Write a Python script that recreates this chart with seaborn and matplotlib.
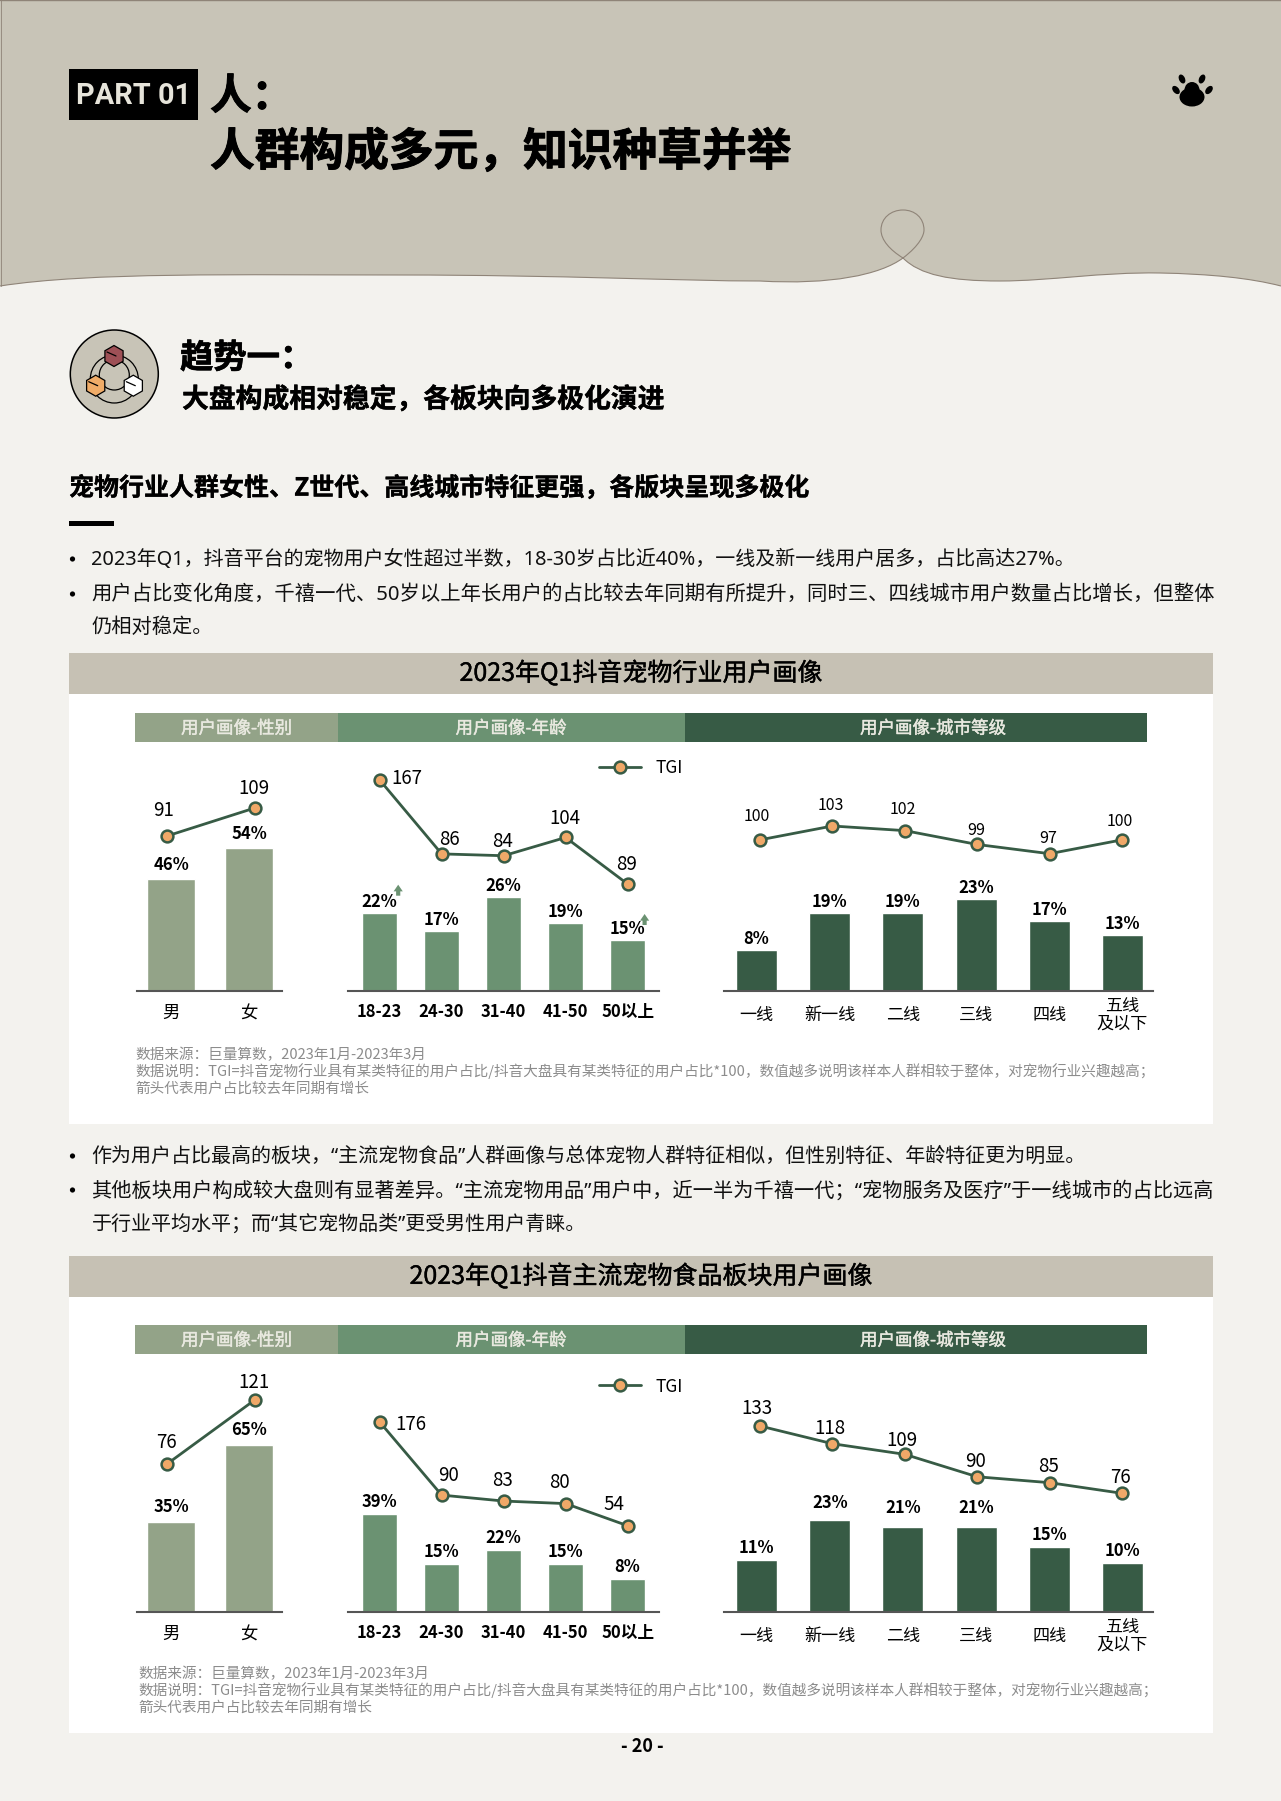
"""Pet industry user portrait page: two rows of bar + TGI line panels."""

import matplotlib.patheffects as pe
import matplotlib.pyplot as plt
import numpy as np
import pandas as pd
import seaborn as sns
from matplotlib.patches import Circle, Ellipse, PathPatch, Rectangle, RegularPolygon
from matplotlib.path import Path

W, H = 1281, 1801

# data
gender = ["男", "女"]
age = ["18-23", "24-30", "31-40", "41-50", "50以上"]
city = ["一线", "新一线", "二线", "三线", "四线", "五线\n及以下"]

share_gender_all = [46, 54]
tgi_gender_all = [91, 109]
share_age_all = [22, 17.4, 26, 19.4, 15]
tgi_age_all = [167, 86, 84, 104, 89]
# the 50+ point is drawn far lower than its label says in the source
tgi_age_all_drawn = [167, 86, 84, 104, 53]
share_city_all = [8, 19, 19, 23.4, 16.6, 12.6]
tgi_city_all = [100, 103, 102, 99, 97, 100]

share_gender_food = [35, 65]
tgi_gender_food = [76, 121]
share_age_food = [39, 15, 22, 15, 8]
tgi_age_food = [176, 90, 83, 80, 54]
share_city_food = [11, 23, 21, 21, 15, 10]
tgi_city_food = [133, 118, 109, 90, 85, 76]

source_lines = [
    "数据来源：巨量算数，2023年1月-2023年3月",
    "数据说明：TGI=抖音宠物行业具有某类特征的用户占比/抖音大盘具有某类特征的用户占比*100，数值越多说明该样本人群相较于整体，对宠物行业兴趣越高；",
    "箭头代表用户占比较去年同期有增长",
]

BG = "#F3F2EE"
SAND = "#C8C4B7"
SAGE = "#93A388"
GREEN = "#6B9272"
DARK = "#375B45"
ORANGE = "#F0A868"
GREY = "#8C8C8C"
CJK = ["Noto Sans CJK SC", "DejaVu Sans"]
NARROW_QUOTES = ["Noto Sans", "Noto Sans CJK SC"]


def thicken(width, color="black"):
    return [pe.withStroke(linewidth=width, foreground=color)]


def px_axes(fig, left, top, right, bottom):
    ax = fig.add_axes([left / W, 1 - bottom / H, (right - left) / W, (bottom - top) / H])
    ax.patch.set_alpha(0)
    return ax


def draw_bars(fig, cats, values, color, base, x_span, c_span, width, slope, origin, dy, tick_size, tick_weight, pad=15):
    n = len(cats)
    step = (c_span[1] - c_span[0]) / (n - 1)
    ax = px_axes(fig, x_span[0], base - 200, x_span[1], base)
    df = pd.DataFrame({"cat": cats, "share": values})
    sns.barplot(data=df, x="cat", y="share", color=color, saturation=1, width=width, ax=ax)
    # value axis does not start at zero here, bars must still reach the baseline
    for bar in ax.patches:
        bar.set_height(bar.get_height() - origin)
        bar.set_y(origin)
    ax.set_xlim((x_span[0] - c_span[0]) / step, (x_span[1] - c_span[0]) / step)
    ax.set_ylim(origin, origin + 200 / slope)
    ax.set_xlabel("")
    ax.set_ylabel("")
    ax.set_yticks([])
    sns.despine(ax=ax, left=True)
    ax.spines["bottom"].set_color("#555555")
    ax.spines["bottom"].set_linewidth(1.5)
    ax.tick_params(axis="x", length=0, pad=pad, labelsize=tick_size)
    for lab in ax.get_xticklabels():
        lab.set_fontweight(tick_weight)
        lab.set_va("center")
        lab.set_linespacing(0.95)
    offsets = np.broadcast_to(dy, (n,))
    for i, v in enumerate(values):
        ax.annotate(f"{v:.0f}%", (i, v), xytext=(0, offsets[i]), textcoords="offset pixels",
                    ha="center", va="center", fontsize=12, fontweight="bold", color="black")
    return ax


def draw_line(fig, cats, values, labels, base, x_span, fit, offsets, font_size, legend_y=None):
    n = len(cats)
    step = (x_span[1] - x_span[0]) / (n - 1)
    ax = px_axes(fig, x_span[0] - step / 2, base - 320, x_span[1] + step / 2, base)
    v1, p1, v2, p2 = fit
    per_px = (v1 - v2) / (p2 - p1)
    df = pd.DataFrame({"pos": np.arange(n), "tgi": values})
    sns.lineplot(data=df, x="pos", y="tgi", ax=ax, color=DARK, linewidth=2.0, marker="o", markersize=8.5,
                 markerfacecolor=ORANGE, markeredgecolor=DARK, markeredgewidth=1.8, label="TGI", clip_on=False)
    ax.set_xlim(-0.5, n - 0.5)
    ax.set_ylim(v1 - (base - p1) * per_px, v1 + (p1 - (base - 320)) * per_px)
    ax.axis("off")
    for i, (v, lab) in enumerate(zip(values, labels)):
        ax.annotate(str(lab), (i, v), xytext=offsets[i], textcoords="offset pixels",
                    ha="center", va="center", fontsize=font_size, color="black")
    if legend_y is None:
        ax.get_legend().remove()
    else:
        ax.legend(loc="center left", bbox_to_anchor=(599, legend_y), bbox_transform=fig.bg.transData,
                  frameon=False, fontsize=12.5, handlelength=2.4, handletextpad=0.85, borderpad=0, borderaxespad=0)


def draw_header(bg, top, xs_text):
    spans = [(135.2, 337.9, SAGE, "用户画像-性别"), (337.9, 685, GREEN, "用户画像-年龄"), (685, 1147, DARK, "用户画像-城市等级")]
    for (x0, x1, col, txt), xt in zip(spans, xs_text):
        bg.add_patch(Rectangle((x0, top), x1 - x0, 29, color=col, lw=0))
        bg.text(xt, top + 15.5, txt, ha="center", va="center", fontsize=12.6, color="#E9E9E0",
                path_effects=thicken(0.3, "#E9E9E0"))


def draw_decor(bg):
    M, C = Path.MOVETO, Path.CURVE4
    L = Path.LINETO
    band = [
        ((0, 286), M), ((90, 272), C), ((240, 275), C), ((400, 275), C), ((560, 275), C), ((680, 281), C), ((760, 281), C),
        ((830, 285), C), ((880, 275), C), ((903, 258), C), ((920, 275), C), ((950, 281), C), ((1000, 281), C),
        ((1050, 281), C), ((1100, 272), C), ((1160, 273), C), ((1210, 274), C), ((1250, 278), C), ((1281, 286), C),
        ((1281, 0), L), ((0, 0), L), ((0, 286), L),
    ]
    bg.add_patch(PathPatch(Path([p for p, _ in band], [c for _, c in band]), facecolor=SAND, edgecolor="none"))
    edge = [
        ((0, 286), M), ((90, 272), C), ((240, 275), C), ((400, 275), C), ((560, 275), C), ((680, 281), C), ((760, 281), C),
        ((830, 285), C), ((880, 275), C), ((903, 258), C), ((920, 245), C), ((924, 235), C), ((924, 230), C),
        ((924, 218), C), ((915, 210), C), ((903, 210), C), ((891, 210), C), ((881, 218), C), ((881, 230), C),
        ((881, 240), C), ((890, 250), C), ((903, 258), C), ((920, 275), C), ((950, 281), C), ((1000, 281), C),
        ((1050, 281), C), ((1100, 272), C), ((1160, 273), C), ((1210, 274), C), ((1250, 278), C), ((1281, 286), C),
    ]
    bg.add_patch(PathPatch(Path([p for p, _ in edge], [c for _, c in edge]), facecolor="none", edgecolor="#8F8478", lw=0.8))
    bg.plot([0, 1281], [0.5, 0.5], color="#8F8478", lw=1.0)
    bg.plot([0.5, 0.5], [0, 286], color="#8F8478", lw=0.6)

    bg.add_patch(Rectangle((69, 69), 129, 51, color="black", lw=0))
    bg.text(133.5, 96, "PART 01", color="#E6E4DA", fontsize=20.8, fontweight="bold", ha="center", va="center", fontfamily="Roboto")
    bg.text(210, 97, "人：", fontsize=30, fontweight="bold", va="center", path_effects=thicken(0.7))
    bg.text(210, 152.5, "人群构成多元，知识种草并举", fontsize=32.2, fontweight="bold", va="center", path_effects=thicken(0.7))

    # paw
    bg.add_patch(Ellipse((1192, 97), 25, 19, color="black", lw=0))
    bg.add_patch(Ellipse((1192, 90), 15, 16, color="black", lw=0))
    for x, y, ang in [(1182, 79, -25), (1202, 79, 25), (1176, 90, -40), (1209, 90, 40)]:
        bg.add_patch(Ellipse((x, y), 6, 9.5, angle=ang, color="black", lw=0))

    # round icon
    bg.add_patch(Circle((114.3, 374), 44, facecolor=SAND, edgecolor="black", lw=1.1))
    bg.add_patch(Circle((114.3, 379), 24, facecolor="none", edgecolor="black", lw=0.9))
    bg.add_patch(Circle((114.3, 375), 15, facecolor="none", edgecolor="black", lw=0.9))
    for x, y, col in [(114, 356, "#9E5056"), (95.7, 385.7, "#F0AC68"), (133.3, 385.7, "white")]:
        bg.add_patch(RegularPolygon((x, y), 6, radius=10.5, facecolor=col, edgecolor="black", lw=0.9, zorder=3))
        bg.plot([x - 7, x + 2], [y - 4, y], color="black", lw=0.9, zorder=4)

    bg.text(180, 358.5, "趋势一：", fontsize=24, fontweight="bold", va="center", path_effects=thicken(0.5))
    bg.text(182, 399.5, "大盘构成相对稳定，各板块向多极化演进", fontsize=19.3, fontweight="bold", va="center", path_effects=thicken(0.3))
    bg.text(69, 488, "宠物行业人群女性、Z世代、高线城市特征更强，各版块呈现多极化", fontsize=18, fontweight="bold", va="center", path_effects=thicken(0.2))
    bg.add_patch(Rectangle((69, 521), 45, 5, color="black", lw=0))

    bullets = [
        (560, True, 14.4, "2023年Q1，抖音平台的宠物用户女性超过半数，18-30岁占比近40%，一线及新一线用户居多，占比高达27%。"),
        (595, True, 14.66, "用户占比变化角度，千禧一代、50岁以上年长用户的占比较去年同期有所提升，同时三、四线城市用户数量占比增长，但整体"),
        (628, False, 14.6, "仍相对稳定。"),
        (1157, True, 14.4, "作为用户占比最高的板块，“主流宠物食品”人群画像与总体宠物人群特征相似，但性别特征、年龄特征更为明显。"),
        (1191, True, 14.55, "其他板块用户构成较大盘则有显著差异。“主流宠物用品”用户中，近一半为千禧一代；“宠物服务及医疗”于一线城市的占比远高"),
        (1225, False, 14.4, "于行业平均水平；而“其它宠物品类”更受男性用户青睐。"),
    ]
    for y, dot, size, txt in bullets:
        if dot:
            bg.add_patch(Circle((72.5, y - 1), 2.6, color="black", lw=0))
        bg.text(91.5, y, txt, fontsize=size, va="center", color="#111111", fontfamily=NARROW_QUOTES)

    for top, bottom, head_bottom, title in [
        (653, 1124, 694, "2023年Q1抖音宠物行业用户画像"),
        (1256, 1733, 1297, "2023年Q1抖音主流宠物食品板块用户画像"),
    ]:
        bg.add_patch(Rectangle((69, top), 1144, bottom - top, color="white", lw=0))
        bg.add_patch(Rectangle((69, top), 1144, head_bottom - top, color="#C6C1B4", lw=0))
        bg.text(641, (top + head_bottom) / 2, title, fontsize=18, ha="center", va="center", path_effects=thicken(0.3))

    for x, ys in [(135.5, (1054.5, 1070.7, 1088.3)), (138.5, (1673.8, 1690, 1707.3))]:
        for y, line in zip(ys, source_lines):
            bg.text(x, y, line, fontsize=10.52, color=GREY, va="center")

    bg.text(642, 1746, "- 20 -", fontsize=13, fontweight="bold", ha="center", va="center")

    # growth arrows next to the 18-23 and 50+ labels
    for x, y in [(398.2, 890.7), (644.6, 920)]:
        bg.annotate("", xy=(x, y - 6), xytext=(x, y + 5),
                    arrowprops=dict(arrowstyle="simple,head_width=0.55,head_length=0.4,tail_width=0.25",
                                    color=GREEN, lw=0, shrinkA=0, shrinkB=0))


def main() -> None:
    sns.set_theme(style="white")
    plt.rcParams["font.family"] = CJK
    plt.rcParams["text.color"] = "black"
    plt.rcParams["xtick.color"] = "black"
    plt.rcParams["axes.unicode_minus"] = False

    fig = plt.figure(figsize=(W / 100, H / 100), dpi=100, facecolor=BG)
    bg = fig.add_axes([0, 0, 1, 1])
    bg.set_xlim(0, W)
    bg.set_ylim(H, 0)
    bg.axis("off")
    fig.bg = bg
    draw_decor(bg)
    draw_header(bg, 713, (236.5, 511, 933))
    draw_header(bg, 1325, (236.5, 511, 933))

    gx, gc = (136.6, 281.7), (171, 249)
    ax, ac = (347.9, 659), (379.5, 627.6)
    cx, cc = (724, 1153), (756.5, 1122.5)
    gl, al, cl = (167, 254.7), (379.7, 627.6), (760, 1122)

    # row 1: whole industry
    base = 991
    draw_bars(fig, gender, share_gender_all, SAGE, base, gx, gc, 0.615, 3.875, 17.1, 14, 12.5, "normal", pad=16)
    draw_bars(fig, age, share_age_all, GREEN, base, ax, ac, 0.565, 3.9, 2, 11, 12, "bold")
    draw_bars(fig, city, share_city_all, DARK, base, cx, cc, 0.56, 3.3, -4.5, 11, 12.3, "normal", pad=17)
    draw_line(fig, gender, tgi_gender_all, tgi_gender_all, base, gl, (91, 836, 109, 808),
              [(-3, 26), (-1, 19)], 13.5)
    draw_line(fig, age, tgi_age_all_drawn, tgi_age_all, base, al, (167, 780, 53, 884),
              [(27, 2), (8, 14), (-1, 14), (-1, 19), (-1, 19)], 13.5, legend_y=768)
    draw_line(fig, city, tgi_city_all, tgi_city_all, base, cl, (103, 826, 97, 853.7),
              [(-3, 23), (-2, 20), (-2, 21), (-1, 14), (-1, 15), (-2, 18)], 11.5)

    # row 2: mainstream pet food
    base = 1612
    draw_bars(fig, gender, share_gender_food, SAGE, base, gx, gc, 0.615, 2.57, 0, 15, 12.5, "normal", pad=16)
    draw_bars(fig, age, share_age_food, GREEN, base, ax, ac, 0.565, 2.1, -7.7, 12, 12, "bold")
    draw_bars(fig, city, share_city_food, DARK, base, cx, cc, 0.56, 3.3, -4.8, [12, 17, 19, 19, 12, 12], 12.3, "normal", pad=17)
    draw_line(fig, gender, tgi_gender_food, tgi_gender_food, base, gl, (76, 1464, 121, 1400),
              [(-1, 21), (-1, 18)], 13.5)
    draw_line(fig, age, tgi_age_food, tgi_age_food, base, al, (176, 1422, 54, 1525.7),
              [(31, -3), (7, 20), (-1, 21), (-6, 21), (-14, 21)], 13.5, legend_y=1386.5)
    draw_line(fig, city, tgi_city_food, tgi_city_food, base, cl, (133, 1426, 76, 1493.3),
              [(-3, 17), (-2, 15), (-3, 14), (-2, 15), (-1, 16), (-2, 16)], 13.5)

    fig.savefig("out.png", dpi=100, facecolor=BG)
    plt.close(fig)


if __name__ == "__main__":
    main()
